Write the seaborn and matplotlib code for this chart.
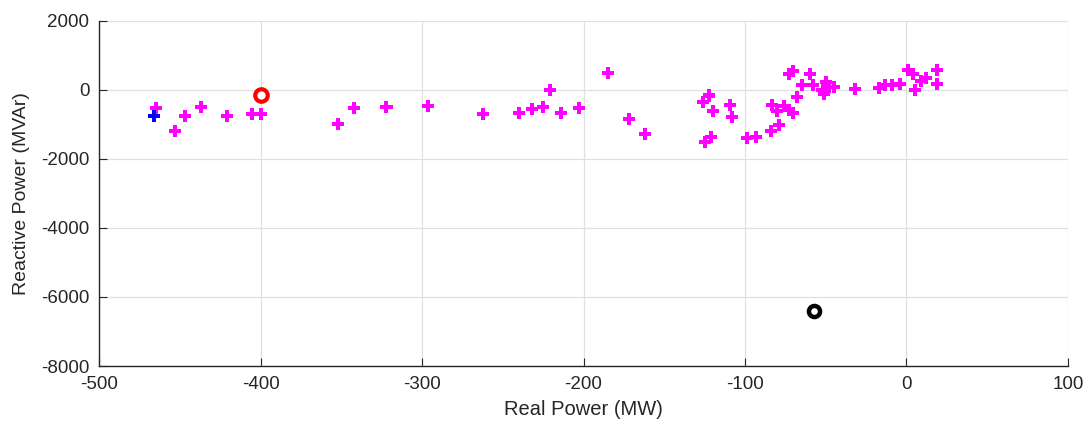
import matplotlib
matplotlib.use("Agg")
import matplotlib.pyplot as plt
import seaborn as sns
import pandas as pd

# wartosci (MW, MVAr)
real_power = [
    -465, -453, -447, -437, -421, -405, -400, -352, -342, -322,
    -296, -262, -240, -232, -225, -221, -214, -203, -185, -172, -162,
    -122, -126, -120, -109, -108, -121, -125, -99, -93,
    -84, -79, -83, -80, -76, -73, -70, -68, -73, -70,
    -65, -60, -58, -52, -51, -50, -48, -45,
    -32, -17, -13, -9, -4, 1, 4, 5, 9, 12, 19, 19,
]
reactive_power = [
    -535, -1184, -757, -506, -757, -699, -699, -981, -524, -506,
    -477, -690, -661, -564, -486, -20, -669, -535, 483, -844, -1272,
    -166, -361, -623, -428, -797, -1379, -1524, -1397, -1379,
    -1184, -1019, -437, -602, -477, -582, -669, -215, 445, 532,
    125, 445, 125, -20, -116, 221, 76, 76,
    29, 58, 125, 145, 175, 582, 466, 0, 241, 338, 562, 175,
]

blue_point = (-466, -768)
red_point = (-400, -157)
black_point = (-57.5, -6400)

df = pd.DataFrame({"P": real_power, "Q": reactive_power})

sns.set_style("white")
plt.rcParams["font.family"] = ["Liberation Sans", "DejaVu Sans"]
plt.rcParams["axes.unicode_minus"] = False

fig = plt.figure(figsize=(10.86, 4.26), dpi=100)
ax = fig.add_axes([0.0912, 0.1408, 0.8922, 0.8106])

sns.scatterplot(data=df, x="P", y="Q", ax=ax, marker="P", s=75,
                color="#ff00ff", edgecolor="none", zorder=3)
ax.scatter([blue_point[0]], [blue_point[1]], marker="P", s=75,
           color="#0000ff", edgecolors="none", zorder=4)
ax.plot([red_point[0]], [red_point[1]], "o", ms=9, mfc="white",
        mec="#ff0000", mew=3, zorder=5)
ax.plot([black_point[0]], [black_point[1]], "o", ms=8, mfc="white",
        mec="black", mew=3.2, zorder=5)

ax.set_xlim(-500, 100)
ax.set_ylim(-8000, 2000)
ax.set_xticks(range(-500, 101, 100))
ax.set_yticks(range(-8000, 2001, 2000))
ax.grid(True, color="#e0e0e0", linewidth=0.9)
ax.set_axisbelow(True)

for side in ["top", "right"]:
    ax.spines[side].set_visible(False)
for side in ["left", "bottom"]:
    ax.spines[side].set_color("#262626")
    ax.spines[side].set_linewidth(1.0)

ax.tick_params(bottom=True, left=True, direction="in", length=6, width=0.8,
               colors="#262626", labelsize=13.5, pad=7)
ax.set_xlabel("Real Power (MW)", fontsize=14.5, color="#262626", labelpad=5)
ax.set_ylabel("Reactive Power (MVAr)", fontsize=14, color="#262626", labelpad=8)

fig.savefig("out.png", dpi=100)
